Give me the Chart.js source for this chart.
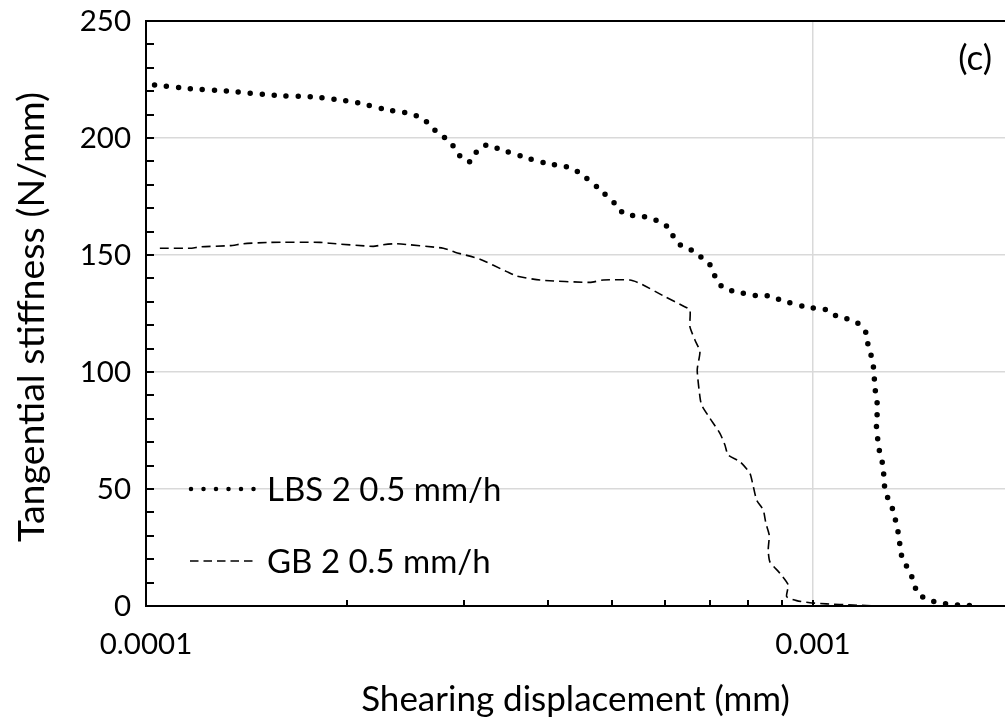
<!DOCTYPE html>
<html><head><meta charset="utf-8">
<script src="https://cdn.jsdelivr.net/npm/chart.js@4.4.1/dist/chart.umd.min.js"></script>
<style>html,body{margin:0;padding:0;background:#fff;overflow:hidden}canvas{display:block}</style>
</head><body>
<canvas id="c" width="1005" height="721"></canvas>
<script>
const seriesNames = ['LBS 2 0.5 mm/h', 'GB 2 0.5 mm/h'];
const lbsX = [1.03e-4,1.164e-4,1.321e-4,1.561e-4,1.772e-4,1.927e-4,2.096e-4,2.274e-4,2.469e-4,2.570e-4,
  2.660e-4,2.739e-4,2.835e-4,2.911e-4,2.981e-4,3.069e-4,3.136e-4,3.246e-4,3.380e-4,3.659e-4,
  3.962e-4,4.302e-4,4.473e-4,4.771e-4,5.071e-4,5.207e-4,5.428e-4,5.652e-4,5.884e-4,6.084e-4,
  6.205e-4,6.368e-4,6.624e-4,6.841e-4,7.049e-4,7.147e-4,7.330e-4,7.613e-4,8.279e-4,8.630e-4,
  8.965e-4,9.727e-4,1.054e-3,1.090e-3,1.136e-3,1.179e-3,1.206e-3,1.210e-3,1.227e-3,1.234e-3,
  1.239e-3,1.250e-3,1.245e-3,1.253e-3,1.262e-3,1.276e-3,1.277e-3,1.285e-3,1.304e-3,1.326e-3,
  1.333e-3,1.349e-3,1.350e-3,1.368e-3,1.396e-3,1.416e-3,1.435e-3,1.488e-3,1.549e-3,1.614e-3,
  1.683e-3,1.780e-3];
const lbsY = [222.6,221.1,220.1,218.2,217.6,216.5,214.8,212.3,210.6,209.0,
  205.9,202.0,199.3,195.3,191.0,189.9,194.4,197.1,195.4,192.2,
  189.3,187.5,185.0,178.5,171.4,167.6,166.7,166.1,164.3,161.5,
  156.8,153.6,151.7,148.4,145.0,140.2,136.0,134.5,132.5,132.5,
  130.6,127.9,126.4,123.5,122.5,120.0,115.8,110.7,105.7,100.6,
  93.2,85.0,77.4,69.5,64.2,59.4,54.1,48.8,44.1,39.3,
  34.2,29.5,24.2,19.2,14.8,10.4,5.4,2.6,1.3,0.6,
  0.3,0];
const gbX = [1.049e-4,1.171e-4,1.205e-4,1.336e-4,1.399e-4,1.534e-4,1.823e-4,1.887e-4,2.191e-4,2.268e-4,
  2.375e-4,2.791e-4,2.906e-4,3.168e-4,3.474e-4,3.596e-4,3.897e-4,4.631e-4,4.848e-4,5.316e-4,
  5.503e-4,5.999e-4,6.390e-4,6.540e-4,6.540e-4,6.654e-4,6.770e-4,6.707e-4,6.770e-4,6.809e-4,
  7.008e-4,7.254e-4,7.380e-4,7.464e-4,7.773e-4,8.045e-4,8.121e-4,8.234e-4,8.424e-4,8.502e-4,
  8.600e-4,8.570e-4,8.620e-4,8.923e-4,9.183e-4,9.133e-4,9.454e-4,9.897e-4,1.048e-3,1.149e-3,
  1.259e-3];
const gbY = [152.9,152.9,153.5,154.0,154.8,155.4,155.4,155.0,153.7,154.4,
  154.8,152.9,151.2,148.2,142.9,141.0,139.3,138.3,139.3,139.3,
  137.9,132.2,128.2,126.5,119.4,113.7,108.7,100.9,89.4,85.9,
  80.2,73.8,68.8,64.5,61.7,56.7,52.4,45.3,41.0,35.3,
  30.3,23.9,18.9,14.0,9.0,4.0,2.3,1.4,0.9,0.4,
  0];
const yTickValues = [0, 50, 100, 150, 200, 250];
const yMinorValues = [10,20,30,40,60,70,80,90,110,120,130,140,160,170,180,190,210,220,230,240];
const xTickValues = [1e-4, 2e-4, 3e-4, 4e-4, 5e-4, 6e-4, 7e-4, 8e-4, 9e-4, 1e-3];
const xTickLabels = ['0.0001', '', '', '', '', '', '', '', '', '0.001'];
const xTitle = 'Shearing displacement (mm)';
const yTitle = 'Tangential stiffness (N/mm)';
const panelLabel = '(c)';

const FONT = 'Lato';
const toPts = (xs, ys) => xs.map((v, i) => ({x: v, y: ys[i]}));

const decor = {
  id: 'decor',
  afterDatasetsDraw(chart) {
    const ctx = chart.ctx, a = chart.chartArea;
    const xs = chart.scales.x, ys = chart.scales.y;
    ctx.save();
    ctx.strokeStyle = '#000'; ctx.lineWidth = 2;
    ctx.beginPath(); ctx.moveTo(a.left - 1, a.top); ctx.lineTo(a.right + 2, a.top); ctx.stroke();
    ctx.beginPath();
    yTickValues.concat(yMinorValues).forEach(v => {
      const p = Math.round(ys.getPixelForValue(v));
      ctx.moveTo(a.left, p); ctx.lineTo(a.left + 8, p);
    });
    ctx.stroke();
    ctx.beginPath();
    xTickValues.forEach(v => {
      const p = Math.round(xs.getPixelForValue(v));
      ctx.moveTo(p, a.bottom); ctx.lineTo(p, a.bottom - 6);
    });
    ctx.stroke();
    // legend
    const ds = chart.data.datasets;
    const rows = [489, 561];
    ds.forEach((d, i) => {
      ctx.save();
      ctx.strokeStyle = d.borderColor;
      ctx.lineWidth = i === 0 ? 4.5 : 1.5;
      ctx.lineCap = d.borderCapStyle;
      ctx.setLineDash(i === 0 ? [0, 12.5] : [8.5, 5]);
      ctx.beginPath(); ctx.moveTo(i === 0 ? 191 : 190, rows[i]); ctx.lineTo(256, rows[i]); ctx.stroke();
      ctx.restore();
      ctx.fillStyle = '#000';
      ctx.font = '33px ' + FONT;
      ctx.textAlign = 'left'; ctx.textBaseline = 'alphabetic';
      ctx.fillText(d.label, 267, rows[i] + 12);
    });
    ctx.font = '35px ' + FONT;
    ctx.textAlign = 'right';
    ctx.fillText(panelLabel, 992, 70);
    // axis titles
    ctx.font = '35px ' + FONT;
    ctx.textAlign = 'center';
    ctx.fillText(xTitle, (a.left + a.right) / 2, 711);
    ctx.save();
    ctx.translate(32, 317);
    ctx.rotate(-Math.PI / 2);
    ctx.font = '37.5px ' + FONT;
    ctx.textBaseline = 'middle';
    ctx.fillText(yTitle, 0, 0);
    ctx.restore();
    ctx.restore();
  }
};

new Chart(document.getElementById('c'), {
  type: 'line',
  data: {
    datasets: [
      {label: seriesNames[0], data: toPts(lbsX, lbsY), borderColor: '#000', borderWidth: 5.5,
       borderDash: [0, 12], borderCapStyle: 'round', pointRadius: 0, tension: 0.2, fill: false},
      {label: seriesNames[1], data: toPts(gbX, gbY), borderColor: '#000', borderWidth: 1.6,
       borderDash: [9, 5], borderCapStyle: 'butt', pointRadius: 0, tension: 0.2, fill: false}
    ]
  },
  options: {
    responsive: false, animation: false, devicePixelRatio: 1,
    layout: {padding: {top: 21, right: 0, bottom: 0, left: 0}},
    plugins: {legend: {display: false}, tooltip: {enabled: false}, title: {display: false}},
    scales: {
      x: {
        type: 'logarithmic', min: 1e-4, max: 1.941e-3,
        afterBuildTicks: s => { s.ticks = xTickValues.map(v => ({value: v})); },
        afterFit: s => { s.height = 115; s.paddingLeft = 0; s.paddingRight = 0; },
        ticks: {autoSkip: false, maxRotation: 0, padding: 21, color: '#000',
          font: {family: FONT, size: 29.5},
          callback: (v, i) => xTickLabels[i]},
        grid: {drawTicks: false, lineWidth: 1.5,
          color: c => (c.index === xTickValues.length - 1 ? '#d9d9d9' : 'rgba(0,0,0,0)')},
        border: {display: true, color: '#000', width: 2}
      },
      y: {
        min: 0, max: 250,
        afterBuildTicks: s => { s.ticks = yTickValues.map(v => ({value: v})); },
        afterFit: s => { s.width = 146; s.paddingTop = 0; s.paddingBottom = 0; },
        ticks: {padding: 15, color: '#000', font: {family: FONT, size: 29.5}},
        grid: {drawTicks: false, lineWidth: 1.5,
          color: c => (c.tick && (c.tick.value === 0 || c.tick.value === 250) ? 'rgba(0,0,0,0)' : '#d9d9d9')},
        border: {display: true, color: '#000', width: 2}
      }
    }
  },
  plugins: [decor]
});
</script>
</body></html>
